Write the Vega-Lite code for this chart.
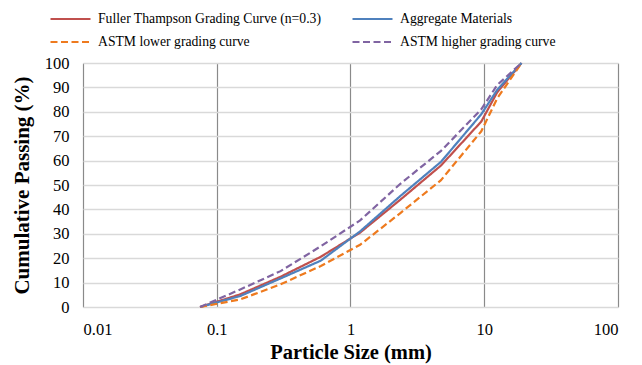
{
  "$schema": "https://vega.github.io/schema/vega-lite/v6.json",
  "width": 535,
  "height": 244,
  "autosize": "none",
  "padding": {"left": 83, "top": 63, "right": 24, "bottom": 58},
  "background": "white",
  "config": {
    "view": {"stroke": null},
    "font": "Liberation Serif"
  },
  "data": {
    "values": [
      {"size": 0.075, "pass": 0, "series": "Fuller Thampson Grading Curve (n=0.3)"},
      {"size": 0.15, "pass": 5.2, "series": "Fuller Thampson Grading Curve (n=0.3)"},
      {"size": 0.3, "pass": 12.4, "series": "Fuller Thampson Grading Curve (n=0.3)"},
      {"size": 0.6, "pass": 20.6, "series": "Fuller Thampson Grading Curve (n=0.3)"},
      {"size": 1.18, "pass": 30.5, "series": "Fuller Thampson Grading Curve (n=0.3)"},
      {"size": 2.36, "pass": 44, "series": "Fuller Thampson Grading Curve (n=0.3)"},
      {"size": 4.75, "pass": 58, "series": "Fuller Thampson Grading Curve (n=0.3)"},
      {"size": 9.5, "pass": 76, "series": "Fuller Thampson Grading Curve (n=0.3)"},
      {"size": 12.5, "pass": 88, "series": "Fuller Thampson Grading Curve (n=0.3)"},
      {"size": 19, "pass": 100, "series": "Fuller Thampson Grading Curve (n=0.3)"},
      {"size": 0.075, "pass": 0, "series": "Aggregate Materials"},
      {"size": 0.15, "pass": 4.5, "series": "Aggregate Materials"},
      {"size": 0.3, "pass": 11.7, "series": "Aggregate Materials"},
      {"size": 0.6, "pass": 19, "series": "Aggregate Materials"},
      {"size": 1.18, "pass": 31, "series": "Aggregate Materials"},
      {"size": 2.36, "pass": 45.5, "series": "Aggregate Materials"},
      {"size": 4.75, "pass": 59.5, "series": "Aggregate Materials"},
      {"size": 9.5, "pass": 79, "series": "Aggregate Materials"},
      {"size": 12.5, "pass": 89, "series": "Aggregate Materials"},
      {"size": 19, "pass": 100, "series": "Aggregate Materials"},
      {"size": 0.075, "pass": 0, "series": "ASTM lower grading curve"},
      {"size": 0.15, "pass": 3.1, "series": "ASTM lower grading curve"},
      {"size": 0.3, "pass": 9.3, "series": "ASTM lower grading curve"},
      {"size": 0.6, "pass": 16.8, "series": "ASTM lower grading curve"},
      {"size": 1.18, "pass": 25.5, "series": "ASTM lower grading curve"},
      {"size": 2.36, "pass": 38.5, "series": "ASTM lower grading curve"},
      {"size": 4.75, "pass": 52, "series": "ASTM lower grading curve"},
      {"size": 9.5, "pass": 72, "series": "ASTM lower grading curve"},
      {"size": 12.5, "pass": 85.5, "series": "ASTM lower grading curve"},
      {"size": 19, "pass": 100, "series": "ASTM lower grading curve"},
      {"size": 0.075, "pass": 0, "series": "ASTM higher grading curve"},
      {"size": 0.15, "pass": 7.2, "series": "ASTM higher grading curve"},
      {"size": 0.3, "pass": 14.7, "series": "ASTM higher grading curve"},
      {"size": 0.6, "pass": 24.9, "series": "ASTM higher grading curve"},
      {"size": 1.18, "pass": 35.5, "series": "ASTM higher grading curve"},
      {"size": 2.36, "pass": 50.5, "series": "ASTM higher grading curve"},
      {"size": 4.75, "pass": 64, "series": "ASTM higher grading curve"},
      {"size": 9.5, "pass": 81, "series": "ASTM higher grading curve"},
      {"size": 12.5, "pass": 91, "series": "ASTM higher grading curve"},
      {"size": 19, "pass": 100, "series": "ASTM higher grading curve"}
    ]
  },
  "mark": {"type": "line", "strokeWidth": 2.2},
  "encoding": {
    "x": {
      "field": "size", "type": "quantitative",
      "scale": {"type": "log", "domain": [0.01, 100], "nice": false},
      "axis": {
        "values": [0.01, 0.1, 1, 10, 100],
        "format": "~g",
        "title": "Particle Size (mm)",
        "titleFont": "Liberation Serif", "titleFontSize": 20.5, "titleFontWeight": "bold", "titleColor": "#000",
        "titlePadding": 5,
        "labelFont": "Liberation Serif", "labelFontSize": 16.5, "labelColor": "#000", "labelPadding": 14,
        "domain": false, "ticks": false,
        "grid": true, "gridColor": "#8a8a8a", "gridWidth": 1.2
      }
    },
    "y": {
      "field": "pass", "type": "quantitative",
      "scale": {"domain": [0, 100], "nice": false},
      "axis": {
        "values": [0, 10, 20, 30, 40, 50, 60, 70, 80, 90, 100],
        "title": "Cumulative Passing (%)",
        "titleFont": "Liberation Serif", "titleFontSize": 21, "titleFontWeight": "bold", "titleColor": "#000",
        "titlePadding": 12,
        "labelFont": "Liberation Serif", "labelFontSize": 16.5, "labelColor": "#000", "labelPadding": 14,
        "domain": false, "ticks": false,
        "grid": true, "gridColor": "#d9d9d9", "gridWidth": 1.5
      }
    },
    "color": {
      "field": "series", "type": "nominal",
      "scale": {
        "domain": ["Fuller Thampson Grading Curve (n=0.3)", "ASTM lower grading curve", "Aggregate Materials", "ASTM higher grading curve"],
        "range": ["#C0504D", "#EE7A1E", "#4F81BD", "#8064A2"]
      },
      "legend": {
        "title": null, "orient": "none", "legendX": -34, "legendY": -55.5,
        "columns": 2, "columnPadding": 29, "rowPadding": 0, "clipHeight": 23,
        "symbolType": "stroke", "symbolSize": 1600, "symbolStrokeWidth": 2.2,
        "labelFont": "Liberation Serif", "labelFontSize": 13.7, "labelColor": "#000", "labelOffset": 6,
        "labelLimit": 400
      }
    },
    "strokeDash": {
      "field": "series", "type": "nominal",
      "scale": {
        "domain": ["Fuller Thampson Grading Curve (n=0.3)", "ASTM lower grading curve", "Aggregate Materials", "ASTM higher grading curve"],
        "range": [[1, 0], [7, 3.5], [1, 0], [7, 3.5]]
      },
      "legend": {
        "title": null, "orient": "none", "legendX": -34, "legendY": -55.5,
        "columns": 2, "columnPadding": 29, "rowPadding": 0, "clipHeight": 23,
        "symbolType": "stroke", "symbolSize": 1600, "symbolStrokeWidth": 2.2,
        "labelFont": "Liberation Serif", "labelFontSize": 13.7, "labelColor": "#000", "labelOffset": 6,
        "labelLimit": 400
      }
    }
  }
}
